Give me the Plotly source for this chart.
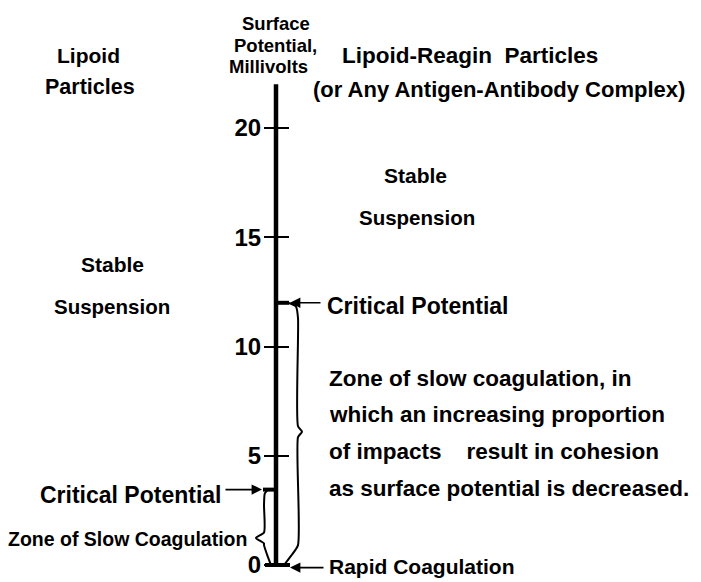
import plotly.graph_objects as go

# ---------------- data ----------------
tick_values = [0, 5, 10, 15, 20]
tick_labels = ["0", "5", "10", "15", "20"]
axis_span = [0, 22.0]                 # drawn extent of the potential axis (mV)
critical_lipoid = 3.45                # critical potential, lipoid particles (mV)
critical_complex = 12.0               # critical potential, lipoid-reagin particles (mV)
rapid_coagulation = 0.0               # rapid coagulation level (mV)

W, H = 701, 582
AX_X = 276                 # pixel column of the potential axis
Y0_PX, SCALE = 565, 21.85  # pixel row of 0 mV, pixels per mV
FONT = "Liberation Sans"


def vpx(p):
    """convert a pixel row to axis value (for the axis range only)"""
    return (Y0_PX - p) / SCALE


def yp(p):
    """pixel row -> paper coordinate for text placement"""
    return 1 - p / H


fig = go.Figure()

# main vertical axis line
fig.add_trace(go.Scatter(x=[AX_X, AX_X], y=axis_span, mode="lines",
                         line=dict(color="black", width=4.5), hoverinfo="skip"))

# thick marks at the critical potentials and at zero
fig.add_trace(go.Scatter(x=[AX_X, AX_X + 13], y=[critical_complex] * 2, mode="lines",
                         line=dict(color="black", width=4), hoverinfo="skip"))
fig.add_trace(go.Scatter(x=[AX_X - 13, AX_X], y=[critical_lipoid] * 2, mode="lines",
                         line=dict(color="black", width=4), hoverinfo="skip"))
fig.add_trace(go.Scatter(x=[AX_X - 11, AX_X + 14], y=[rapid_coagulation] * 2, mode="lines",
                         line=dict(color="black", width=4), hoverinfo="skip"))


def brace(top, bot, x_body, x_tip, x_end_top, x_end_bot, tip):
    d = 0.7  # curvature extent in mV
    xs = [x_end_top, (x_end_top + x_body) / 2 + (x_body - x_end_top) * 0.3, x_body,
          x_body, x_tip, x_body, x_body, (x_end_bot + x_body) / 2, x_end_bot]
    ys = [top, top - d * 0.25, top - d, tip + 0.25, tip, tip - 0.25, bot + d * 1.3,
          bot + d * 0.6, bot]
    return xs, ys


# right brace: zone of slow coagulation of lipoid-reagin particles
bx, by = brace(critical_complex, rapid_coagulation, 298, 302, 288, 284,
               (critical_complex + rapid_coagulation) / 2 + 0.1)
fig.add_trace(go.Scatter(x=bx, y=by, mode="lines",
                         line=dict(color="black", width=2, shape="spline", smoothing=0.6),
                         hoverinfo="skip"))

# left brace: zone of slow coagulation of lipoid particles
bx, by = brace(critical_lipoid, rapid_coagulation, 264, 256, 268, 271, 1.24)
fig.add_trace(go.Scatter(x=bx, y=by, mode="lines",
                         line=dict(color="black", width=2, shape="spline", smoothing=0.6),
                         hoverinfo="skip"))

# ---------------- annotations ----------------
ann = []


def txt(s, x, y, size, xanchor="center"):
    ann.append(dict(text=s, x=x, y=yp(y), xref="x", yref="paper", showarrow=False,
                    xanchor=xanchor, yanchor="middle",
                    font=dict(family=FONT, size=size, color="black", weight="bold")))


def arrow(x_tip, x_tail, v):
    ann.append(dict(text="", x=x_tip, y=v, ax=x_tail, ay=v, xref="x", yref="y",
                    axref="x", ayref="y", showarrow=True, arrowhead=2, arrowsize=1.3,
                    arrowwidth=1.6, arrowcolor="black", standoff=0, startstandoff=0))


# axis title
txt("Surface", 276, 24, 18.5)
txt("Potential,", 275, 46, 18.5)
txt("Millivolts", 268, 66, 18.5)

# column headings
txt("Lipoid", 88, 56, 21)
txt("Particles", 90, 87, 21.5)
txt("Lipoid-Reagin\u00a0 Particles", 470, 55, 22.5)
txt("(or Any Antigen-Antibody Complex)", 499, 89, 22)

# stable suspension labels
txt("Stable", 415, 175, 21)
txt("Suspension", 417, 217, 20.5)
txt("Stable", 112, 265, 21)
txt("Suspension", 112, 306, 20.5)

# right side
txt("Critical Potential", 325, 306, 23, "left")
arrow(290, 322, critical_complex)
para = ["Zone of slow coagulation, in",
        "which an increasing proportion",
        "of impacts\u00a0\u00a0\u00a0 result in cohesion",
        "as surface potential is decreased."]
for i, line in enumerate(para):
    txt(line, 327, 378 + i * 36.7, 22.5, "left")

txt("Rapid Coagulation", 327, 566, 21, "left")
arrow(290, 325, rapid_coagulation - 0.12)

# left side
txt("Critical Potential", 223, 495, 23, "right")
arrow(262, 224, critical_lipoid)
txt("Zone of Slow Coagulation", 249, 539, 19.5, "right")

fig.update_layout(
    width=W, height=H, margin=dict(l=0, r=0, t=0, b=0),
    paper_bgcolor="white", plot_bgcolor="white", showlegend=False,
    annotations=ann,
    xaxis=dict(range=[0, W], visible=False, fixedrange=True),
    yaxis=dict(range=[vpx(H), vpx(0)], domain=[0, 1], anchor="free",
               position=AX_X / W, side="left", showgrid=False, zeroline=False,
               showline=False, tickvals=tick_values, ticktext=tick_labels,
               ticks="outside", ticklen=12, tickwidth=2, tickcolor="black",
               ticklabelstandoff=-2,
               tickfont=dict(family=FONT, size=24, color="black", weight="bold")),
    yaxis2=dict(range=[vpx(H), vpx(0)], overlaying="y", anchor="free",
                position=AX_X / W, side="right", showgrid=False, zeroline=False,
                showline=False, tickvals=tick_values, showticklabels=False,
                ticks="outside", ticklen=12, tickwidth=2, tickcolor="black"),
)
# attach an invisible trace to yaxis2 so it is rendered
fig.add_trace(go.Scatter(x=[AX_X], y=[0], yaxis="y2", mode="markers",
                         marker=dict(opacity=0), hoverinfo="skip"))

fig.write_html("out.html", config={"displayModeBar": False, "staticPlot": True},
               post_script="document.body.style.margin='0px';document.body.style.overflow='hidden';")
